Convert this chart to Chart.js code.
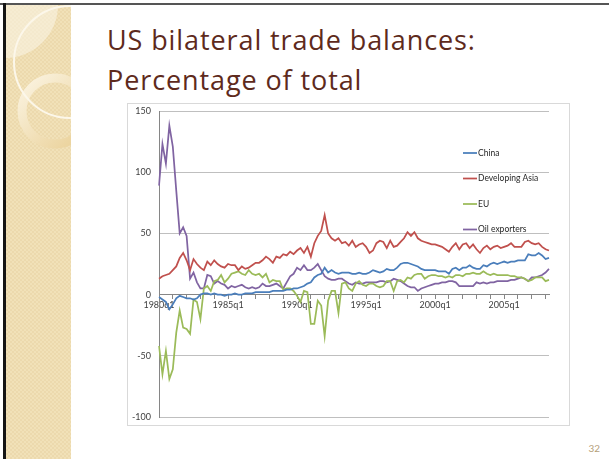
<!DOCTYPE html>
<html>
<head>
<meta charset="utf-8">
<script src="https://cdn.jsdelivr.net/npm/chart.js@4.4.0/dist/chart.umd.min.js"></script>
<style>
  body { margin: 0; width: 609px; height: 459px; background: #fff; position: relative; overflow: hidden; font-family: Lato, 'Open Sans', sans-serif; }
  #frameTop { position: absolute; left: 0; top: 3px; width: 609px; height: 2px; background: #555; }
  #frameLeft { position: absolute; left: 3px; top: 3px; width: 3px; height: 456px; background: #151515; }
  #strip { position: absolute; left: 6px; top: 5px; }
  #title { position: absolute; left: 107px; top: 20px; color: #5e2a1c; font-family: 'Open Sans', Lato, sans-serif; font-size: 27px; letter-spacing: 0.9px; line-height: 40px; white-space: nowrap; }
  #chartBox { position: absolute; left: 127px; top: 103px; width: 441px; height: 321px; border: 1px solid #d9d9d9; }
  #pageNum { position: absolute; right: 9px; top: 442px; font-size: 10px; color: #b5a07a; }
</style>
</head>
<body>
<div id="frameTop"></div>
<div id="frameLeft"></div>
<svg id="strip" width="65" height="454">
  <defs>
    <pattern id="weave" width="4" height="4" patternUnits="userSpaceOnUse">
      <rect width="4" height="4" fill="#f1e1b8"/>
      <rect width="2" height="2" fill="#ecd9ad"/>
      <rect x="2" y="2" width="2" height="2" fill="#ecd9ad"/>
    </pattern>
    <linearGradient id="ringGrad" x1="0" y1="0" x2="1" y2="1">
      <stop offset="0" stop-color="#fbf4e2"/>
      <stop offset="1" stop-color="#e9cf95"/>
    </linearGradient>
  </defs>
  <rect width="65" height="454" fill="url(#weave)"/>
  <circle cx="-1" cy="0" r="53" fill="#faf3e2" opacity="0.6"/>
  <circle cx="49" cy="106" r="33" fill="none" stroke="url(#ringGrad)" stroke-width="9"/>
  <circle cx="64" cy="57" r="56" fill="none" stroke="#fcf7ea" stroke-width="2"/>
</svg>
<div id="title">US bilateral trade balances:<br>Percentage of total</div>
<div id="chartBox"><canvas id="myChart" width="441" height="321"></canvas></div>
<div id="pageNum">32</div>
<script>
// quarters 1980q1 - 2008q2
const quarters = [
  '1980q1', '1980q2', '1980q3', '1980q4', '1981q1', '1981q2', '1981q3', '1981q4',
  '1982q1', '1982q2', '1982q3', '1982q4', '1983q1', '1983q2', '1983q3', '1983q4',
  '1984q1', '1984q2', '1984q3', '1984q4', '1985q1', '1985q2', '1985q3', '1985q4',
  '1986q1', '1986q2', '1986q3', '1986q4', '1987q1', '1987q2', '1987q3', '1987q4',
  '1988q1', '1988q2', '1988q3', '1988q4', '1989q1', '1989q2', '1989q3', '1989q4',
  '1990q1', '1990q2', '1990q3', '1990q4', '1991q1', '1991q2', '1991q3', '1991q4',
  '1992q1', '1992q2', '1992q3', '1992q4', '1993q1', '1993q2', '1993q3', '1993q4',
  '1994q1', '1994q2', '1994q3', '1994q4', '1995q1', '1995q2', '1995q3', '1995q4',
  '1996q1', '1996q2', '1996q3', '1996q4', '1997q1', '1997q2', '1997q3', '1997q4',
  '1998q1', '1998q2', '1998q3', '1998q4', '1999q1', '1999q2', '1999q3', '1999q4',
  '2000q1', '2000q2', '2000q3', '2000q4', '2001q1', '2001q2', '2001q3', '2001q4',
  '2002q1', '2002q2', '2002q3', '2002q4', '2003q1', '2003q2', '2003q3', '2003q4',
  '2004q1', '2004q2', '2004q3', '2004q4', '2005q1', '2005q2', '2005q3', '2005q4',
  '2006q1', '2006q2', '2006q3', '2006q4', '2007q1', '2007q2', '2007q3', '2007q4',
  '2008q1', '2008q2'
]
const xTickLabels = ['1980q1', '1985q1', '1990q1', '1995q1', '2000q1', '2005q1']
const yTicks = { min: -100, max: 150, step: 50 }

const china = [
  -2, -4, -6, -12, -8, -3, -1, -2, -3, -3, -4, -3,
  0, 1, 1, 0, 1, 0, 0, -1, 0, 0, 1, 0, 0,
  1, 1, 1, 2, 2, 2, 2, 2, 3, 3, 3, 3,
  4, 4, 5, 5, 6, 7, 9,
  10, 14, 16, 17, 22, 18, 20, 18, 17, 18, 18, 18, 17, 17, 18, 17,
  17, 18, 20, 19, 18, 19, 21, 20, 20, 22, 25, 26, 26, 25, 24, 23, 21, 20, 20, 20,
  20, 19, 19, 19, 17, 21, 22, 20, 22, 22, 24, 22, 21, 21, 24, 23, 25, 26, 25, 26,
  27, 26, 27, 27, 28, 28, 28, 33, 32, 32, 34, 32, 29, 30
]
const developingAsia = [
  13, 15, 16, 17, 20, 23, 30, 34, 28, 20, 29,
  25, 22, 20, 27, 24, 28, 25, 23, 22, 25, 24, 24, 20, 23, 21, 22, 24,
  26, 26, 28, 31, 29, 26, 31, 30, 33, 32, 35, 33,
  36, 38, 34, 39, 31, 42, 48, 52, 65, 50, 46, 44, 46, 42, 43, 40, 44, 39, 41, 42,
  39, 34, 36, 42, 44, 43, 38, 44, 39, 40, 43, 46, 51, 48, 51, 46, 44, 43, 42, 41,
  41, 40, 39, 37, 35, 39, 42, 37, 41, 42, 38, 41, 37, 34, 38, 40, 37, 39, 40, 38,
  39, 40, 42, 39, 39, 39, 43, 44, 42, 41, 42, 39, 37, 36
]
const eu = [
  -42, -65, -46, -69, -61, -31, -13, -27, -28, -32, -4, -6, -20,
  5, 7, 3, 11, 12, 16, 10, 13, 17, 18, 19, 17, 16, 20, 17, 16,
  17, 14, 17, 10, 12, 11, 11, 4, 5, 5, 3, -1, -6, 3, 2,
  -24, -24, -5, -9, -34, -5, 3, 3, -15, 9, 10, 5, 3, 9, 11, 8, 7,
  9, 9, 7, 6, 7, 11, 11, 3, 11, 12, 10, 14, 13, 16, 17, 17, 13, 15, 16, 16, 15, 15, 14, 15,
  14, 16, 16, 15, 17, 17, 18, 17, 17, 19, 17, 16, 17, 16, 16, 16, 16, 15, 15, 14,
  14, 13, 11, 12, 14, 14, 14, 11, 12
]
const oilExporters = [
  89, 123, 107, 138, 121, 85, 50, 55, 48, 13, 18, 10,
  5, 5, 16, 15, 9, 11, 9, 8, 5, 7, 6, 7, 8, 6, 5, 6,
  5, 6, 9, 7, 7, 8, 9, 7, 5,
  10, 15, 17, 22, 20, 24, 20, 20, 22, 25, 20, 15, 13, 12, 12, 13, 13, 11, 9, 8,
  10, 9, 9, 10, 10, 10, 10, 11, 11, 10, 11, 13, 12, 11, 9, 7, 6, 6, 3, 5, 6, 7, 8, 9, 9, 10, 10, 11,
  11, 10, 7, 7, 7, 7, 7, 10, 9, 10, 9, 10, 10, 11, 11, 11, 11, 12, 12, 13,
  14, 13, 11, 14, 14, 15, 16, 18, 21
]

const seriesNames = ['China', 'Developing Asia', 'EU', 'Oil exporters']
const seriesColors = ['#4a7ebb', '#c0504d', '#9bbb59', '#8064a2']
const seriesData = [china, developingAsia, eu, oilExporters]

Chart.defaults.font.family = 'Lato, "Open Sans", sans-serif'
Chart.defaults.color = '#404040'

// legend sits on top of the plot area, like the Excel original
const legendOverlay = {
    id: 'legendOverlay',
    afterDraw(chart) {
        const { ctx, chartArea } = chart
        const x0 = chartArea.right - 86
        let y = chartArea.top + 42
        ctx.save()
        ctx.font = '8.5px Lato, "Open Sans", sans-serif'
        ctx.textBaseline = 'middle'
        chart.data.datasets.forEach(ds => {
            ctx.strokeStyle = ds.borderColor
            ctx.lineWidth = 1.75
            ctx.beginPath()
            ctx.moveTo(x0, y)
            ctx.lineTo(x0 + 14, y)
            ctx.stroke()
            ctx.fillStyle = '#262626'
            ctx.fillText(ds.label, x0 + 15, y)
            y += 25.5
        })
        ctx.restore()
    }
}

const ctx = document.getElementById('myChart').getContext('2d')
const myChart = new Chart(ctx, {
    type: 'line',
    data: {
        labels: quarters,
        datasets: seriesNames.map((name, i) => ({
            label: name,
            data: seriesData[i],
            borderColor: seriesColors[i],
            backgroundColor: seriesColors[i],
            borderWidth: 1.75,
            pointRadius: 0,
            tension: 0,
            fill: false
        }))
    },
    options: {
        responsive: false,
        animation: false,
        devicePixelRatio: 1,
        layout: { padding: { top: 7, right: 20, bottom: 8, left: 0 } },
        plugins: {
            legend: { display: false },
            tooltip: { enabled: false }
        },
        scales: {
            x: {
                position: { y: 0 },
                offset: false,
                afterFit: (scale) => { scale.height = 0 },
                grid: {
                    drawOnChartArea: false,
                    drawTicks: true,
                    tickLength: 4,
                    color: (c) => (quarters[c.index] || '').endsWith('q1') ? '#868686' : 'rgba(0,0,0,0)'
                },
                border: { color: '#868686', width: 1 },
                ticks: {
                    autoSkip: false,
                    maxRotation: 0,
                    minRotation: 0,
                    padding: 1,
                    font: { size: 9 },
                    callback: (v, i) => xTickLabels.includes(quarters[i]) ? quarters[i] : ''
                }
            },
            y: {
                min: yTicks.min,
                max: yTicks.max,
                afterFit: (scale) => {
                    scale.width = 31
                    scale.paddingTop = 0
                    scale.paddingBottom = 0
                },
                grid: {
                    drawTicks: false,
                    color: (c) => c.tick && c.tick.value === 0 ? '#868686' : '#bfbfbf'
                },
                border: { color: '#868686', width: 1 },
                ticks: {
                    stepSize: yTicks.step,
                    padding: 8,
                    font: { size: 9 }
                }
            }
        }
    },
    plugins: [legendOverlay]
})
</script>
</body>
</html>
